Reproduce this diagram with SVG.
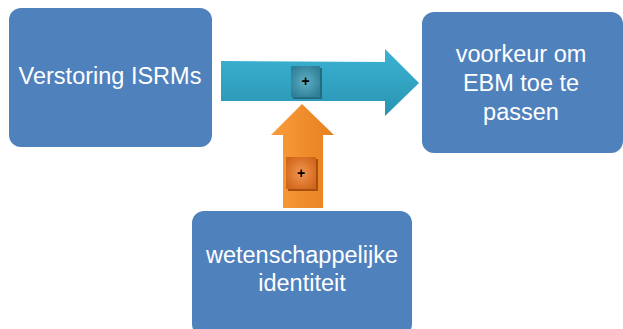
<svg xmlns="http://www.w3.org/2000/svg" width="623" height="329" viewBox="0 0 623 329">
<style>
.box{fill:#4F81BD;}
.lbl{font-family:"Liberation Sans",Arial,sans-serif;font-size:23.5px;fill:#FFFFFF;text-anchor:middle;}
.plus{font-family:"Liberation Sans",Arial,sans-serif;font-size:14px;font-weight:bold;fill:#000;text-anchor:middle;}
</style>
<defs>
<linearGradient id="gBlue" x1="0" y1="0" x2="0" y2="1">
<stop offset="0" stop-color="#3BB3D3"/>
<stop offset="1" stop-color="#2A93B2"/>
</linearGradient>
<linearGradient id="gOrange" x1="0" y1="0" x2="1" y2="0">
<stop offset="0" stop-color="#FA9C3C"/>
<stop offset="1" stop-color="#E5801F"/>
</linearGradient>
<radialGradient id="gPlusB" cx="0.5" cy="0.5" r="0.6">
<stop offset="0" stop-color="#5FAFC4"/>
<stop offset="1" stop-color="#2E7F96"/>
</radialGradient>
<radialGradient id="gPlusO" cx="0.5" cy="0.5" r="0.6">
<stop offset="0" stop-color="#F29650"/>
<stop offset="1" stop-color="#D0661A"/>
</radialGradient>
</defs>
<g id="connectors">
<g id="arrow-blue">
<path d="M221,61 L385,62 L385,49 L419,83 L385,116 L385,101 L221,101 Z" fill="url(#gBlue)"/>
<rect x="293" y="68" width="29" height="31" fill="#256A7E"/>
<rect x="291" y="66" width="29" height="31" fill="url(#gPlusB)"/>
<text class="plus" x="305.5" y="86">+</text>
</g>
<g id="arrow-orange">
<path d="M302,104 L334,135 L323,135 L323,208 L283,208 L283,135 L271,135 Z" fill="url(#gOrange)"/>
<rect x="288" y="159" width="30" height="32" fill="#A84E10"/>
<rect x="286" y="157" width="30" height="32" fill="url(#gPlusO)"/>
<text class="plus" x="301" y="178">+</text>
</g>
</g>
<g id="node-verstoring">
<rect class="box" x="9" y="8" width="203" height="139" rx="12"/>
<text class="lbl" x="110" y="84">Verstoring ISRMs</text>
</g>
<g id="node-voorkeur">
<rect class="box" x="422" y="12" width="201" height="141" rx="12"/>
<text class="lbl" x="521" y="62">voorkeur om</text>
<text class="lbl" x="521" y="91">EBM toe te</text>
<text class="lbl" x="521" y="120">passen</text>
</g>
<g id="node-identiteit">
<rect class="box" x="192" y="211" width="220" height="125" rx="12"/>
<text class="lbl" x="302" y="263">wetenschappelijke</text>
<text class="lbl" x="302" y="291">identiteit</text>
</g>
</svg>
